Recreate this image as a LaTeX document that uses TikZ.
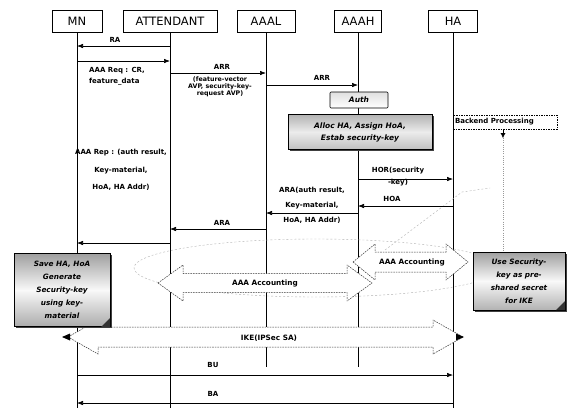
\documentclass[tikz,border=0pt]{standalone}
\usepackage{fontspec}
\setmainfont{DejaVu Sans}
\usetikzlibrary{arrows.meta,shadows}
\newcommand{\BlkDArrow}[6]{%
 \draw[blk] (#1,#3) -- ({#1+#6},{#3-#5}) -- ({#1+#6},{#3-#4}) -- ({#2-#6},{#3-#4}) -- ({#2-#6},{#3-#5}) -- (#2,#3) -- ({#2-#6},{#3+#5}) -- ({#2-#6},{#3+#4}) -- ({#1+#6},{#3+#4}) -- ({#1+#6},{#3+#5}) -- cycle;}
\tikzset{
 head/.style={draw, line width=0.6pt, minimum height=22pt, inner sep=0pt, fill=white, font=\fontsize{11.5}{12}\selectfont},
 life/.style={line width=0.6pt},
 msg/.style={line width=0.6pt, -{Latex[length=6pt,width=4.5pt]}},
 lbl/.style={font=\bfseries\fontsize{7}{8}\selectfont, inner sep=0.5pt},
 lblsmall/.style={font=\bfseries\fontsize{6.3}{7}\selectfont, inner sep=0.5pt, align=center},
 blk/.style={draw=black!80, dash pattern=on 1.6pt off 1pt, fill=white, line width=0.5pt},
 notebox/.style={draw, line width=0.6pt, inner sep=1pt, align=center,
   font=\bfseries\itshape\fontsize{7.3}{13}\selectfont,
   drop shadow={shadow xshift=1.6pt, shadow yshift=-1.6pt, fill=black!75, opacity=1}},
 faint/.style={gray!60, dash pattern=on 2pt off 2pt, line width=0.4pt}
}
\begin{document}
\begin{tikzpicture}[x=1pt,y=-1pt]
\useasboundingbox (0,0) rectangle (569,408);
\fill[white] (0,0) rectangle (569,408);

% header boxes
\node[head, minimum width=50pt] (mn) at (77,21) {MN};
\node[head, minimum width=94pt] (att) at (170,21) {ATTENDANT};
\node[head, minimum width=58pt] (aaal) at (266,21) {AAAL};
\node[head, minimum width=47pt] (aaah) at (358,21) {AAAH};
\node[head, minimum width=49pt] (ha) at (453,21) {HA};

% lifeline ends
\coordinate (mnE) at (77,408);
\coordinate (attE) at (170,408);
\coordinate (aaalE) at (266,367);
\coordinate (aaahE) at (358,367);
\coordinate (haE) at (453,408);
\draw[life] (mn) -- (mnE);
\draw[life] (att) -- (attE);
\draw[life] (aaal) -- (aaalE);
\draw[life] (aaah) -- (aaahE);
\draw[life] (ha) -- (haE);

% faint dashed ellipse and callout lines
\draw[faint] (316,268) ellipse [x radius=182pt, y radius=29pt];
\coordinate (c1) at (385,250);
\coordinate (c2) at (462,192);
\coordinate (c3) at (490,188);
\draw[faint] (c1) -- (c2) -- (c3);

% message levels
\coordinate (yRA) at (0,46);
\coordinate (yREQ) at (0,61);
\coordinate (yARR1) at (0,73);
\coordinate (yARR2) at (0,85);
\coordinate (yHOR) at (0,179);
\coordinate (yHOA) at (0,206);
\coordinate (yARA1) at (0,213);
\coordinate (yARA2) at (0,229);
\coordinate (yREP) at (0,243);
\coordinate (yBU) at (0,375);
\coordinate (yBA) at (0,403);

\draw[msg] (att |- yRA) -- (mn |- yRA);
\node[lbl] (lRA) at (115,40) {RA};
\draw[msg] (mn |- yREQ) -- (att |- yREQ);
\node[lbl, align=left, font=\bfseries\fontsize{7}{11}\selectfont] (lREQ) at (117,76) {AAA Req : CR,\\feature\_data};
\draw[msg] (att |- yARR1) -- (aaal |- yARR1);
\node[lbl] (lARR1) at (222,67) {ARR};
\node[lblsmall] (lAVP) at (220,87) {(feature-vector\\AVP, security-key-\\request AVP)};
\draw[msg] (aaal |- yARR2) -- (aaah |- yARR2);
\node[lbl] (lARR2) at (322,78) {ARR};

% Auth & Alloc boxes
\node[draw, line width=0.6pt, minimum width=58pt, minimum height=16pt, rounded corners=1pt,
  top color=gray!25, bottom color=white, font=\bfseries\itshape\fontsize{7.5}{9}\selectfont] (auth) at (359,100) {Auth};
\node[notebox, minimum width=144pt, minimum height=35pt, top color=gray!60, bottom color=gray!50, middle color=gray!15,
  font=\bfseries\itshape\fontsize{7.5}{12}\selectfont] (alloc) at (360,132) {Alloc HA, Assign HoA,\\Estab security-key};

% backend processing
\node[draw, dash pattern=on 1.5pt off 1pt, line width=0.5pt, minimum width=104pt, minimum height=14pt, inner sep=1pt,
  font=\bfseries\fontsize{7}{8}\selectfont, text width=100pt, align=left] (backend) at (505,122) {Backend Processing};
\coordinate (bk1) at (503,138);
\draw[line width=0.4pt, -{Latex[length=5pt,width=5pt]}] (backend.south -| bk1) -- (bk1);

% HOR / HOA
\draw[msg] (aaah |- yHOR) -- (ha |- yHOR);
\node[lbl, align=center, font=\bfseries\fontsize{7}{12}\selectfont] (lHOR) at (398,177) {HOR(security\\-key)};
\draw[msg] (ha |- yHOA) -- (aaah |- yHOA);
\node[lbl] (lHOA) at (392,199) {HOA};

% ARA
\node[lbl, align=center, font=\bfseries\fontsize{7}{15}\selectfont] (lARA1) at (312,205) {ARA(auth result,\\Key-material,\\HoA, HA Addr)};
\draw[msg] (aaah |- yARA1) -- (aaal |- yARA1);
\draw[msg] (aaal |- yARA2) -- (att |- yARA2);
\node[lbl] (lARA2) at (222,223) {ARA};
\node[lbl, align=center, font=\bfseries\fontsize{7}{17.5}\selectfont] (lREP) at (121,170) {AAA Rep : (auth result,\\Key-material,\\HoA, HA Addr)};
\draw[msg] (att |- yREP) -- (mn |- yREP);

% block arrows
\BlkDArrow{158}{372}{283}{9.5}{18}{25}
\node[lbl, font=\bfseries\fontsize{7.3}{8}\selectfont] (acc1) at (265,284) {AAA Accounting};
\BlkDArrow{353}{468}{262}{10}{18}{22}
\node[lbl, font=\bfseries\fontsize{7.3}{8}\selectfont] (acc2) at (412,263) {AAA Accounting};
\BlkDArrow{68}{463}{337}{10}{17}{30}
\node[lbl, font=\bfseries\fontsize{7.3}{8}\selectfont] (ike) at (269,338) {IKE(IPSec SA)};
\fill (62,337) -- (70,333.5) -- (70,340.5) -- cycle;
\fill (464,337) -- (456,333.5) -- (456,340.5) -- cycle;

% notes
\node[notebox, minimum width=96pt, minimum height=73pt, top color=gray!75, bottom color=gray!65, middle color=gray!5] (save) at (62,290)
  {Save HA, HoA\\Generate\\Security-key\\using key-\\material};
\fill[black!80] (110,318) -- (110,327) -- (101,327) -- cycle;
\node[notebox, minimum width=92pt, minimum height=58pt, top color=gray!75, bottom color=gray!60, middle color=gray!5] (usekey) at (519,281)
  {Use Security-\\key as pre-\\shared secret\\for IKE};
\fill[black!80] (565,301) -- (565,310) -- (556,310) -- cycle;
\draw[faint, gray!80, dash pattern=on 1pt off 1.2pt] (bk1) -- (usekey.north -| bk1);

% BU / BA
\draw[msg] (mn |- yBU) -- (ha |- yBU);
\node[lbl] (lBU) at (213,365) {BU};
\draw[msg] (ha |- yBA) -- (mn |- yBA);
\node[lbl] (lBA) at (213,394) {BA};
\end{tikzpicture}
\end{document}
